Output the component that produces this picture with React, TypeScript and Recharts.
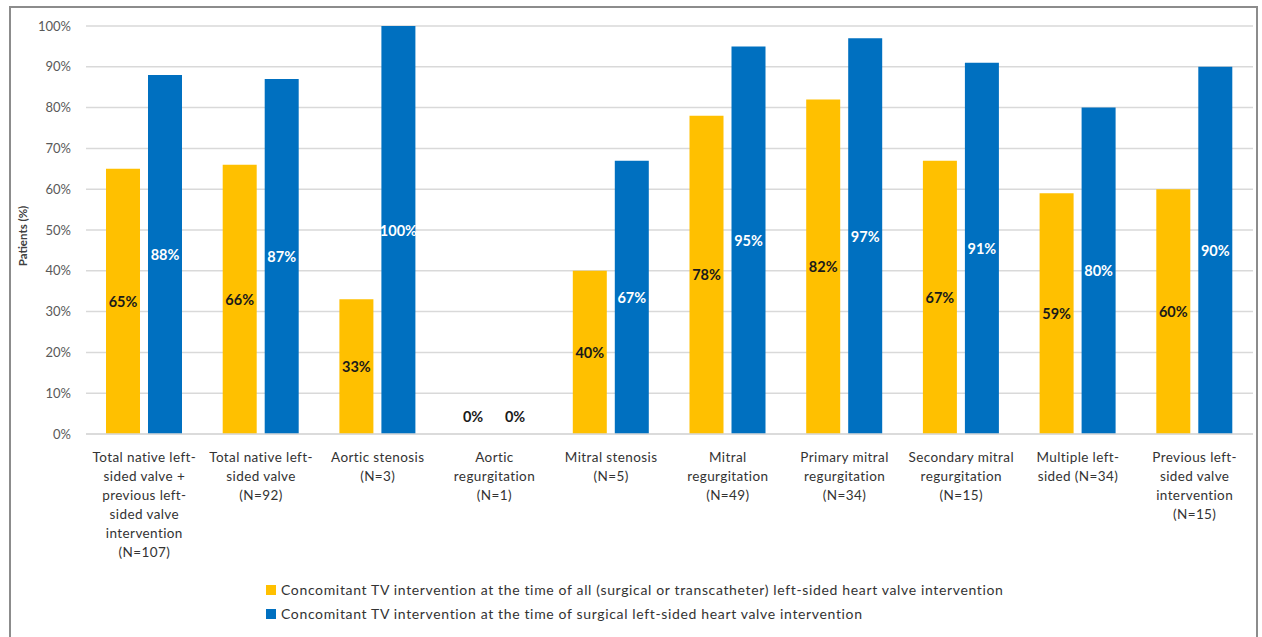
import { BarChart, Bar, XAxis, YAxis, CartesianGrid } from 'recharts'

const categories = [
  ['Total native left-', 'sided valve +', 'previous left-', 'sided valve', 'intervention', '(N=107)'],
  ['Total native left-', 'sided valve', '(N=92)'],
  ['Aortic stenosis', '(N=3)'],
  ['Aortic', 'regurgitation', '(N=1)'],
  ['Mitral stenosis', '(N=5)'],
  ['Mitral', 'regurgitation', '(N=49)'],
  ['Primary mitral', 'regurgitation', '(N=34)'],
  ['Secondary mitral', 'regurgitation', '(N=15)'],
  ['Multiple left-', 'sided (N=34)'],
  ['Previous left-', 'sided valve', 'intervention', '(N=15)'],
]
const allValues = [65, 66, 33, 0, 40, 78, 82, 67, 59, 60]
const surgicalValues = [88, 87, 100, 0, 67, 95, 97, 91, 80, 90]
const yTicks = [0, 10, 20, 30, 40, 50, 60, 70, 80, 90, 100]
const legendAll =
  'Concomitant TV intervention at the time of all (surgical or transcatheter) left-sided heart valve intervention'
const legendSurgical = 'Concomitant TV intervention at the time of surgical left-sided heart valve intervention'

const ORANGE = '#ffc000'
const BLUE = '#0070c0'
const FONT = 'Lato, "Open Sans", sans-serif'

const data = categories.map((lines, i) => ({
  key: String(i),
  lines,
  all: allValues[i],
  surgical: surgicalValues[i],
}))

function CategoryTick(props: any) {
  const { x, y, payload } = props
  const lines = categories[Number(payload.value)]
  return (
    <text
      x={x}
      y={y + 20}
      textAnchor="middle"
      fontSize={13.5}
      fill="#333"
      fontFamily={FONT}
      style={{ letterSpacing: 0.4 }}
    >
      {lines.map((l, i) => (
        <tspan key={i} x={x} dy={i === 0 ? 0 : 19}>
          {l}
        </tspan>
      ))}
    </text>
  )
}

function makeLabel(color: string) {
  return (props: any) => {
    const { x, y, width, height, value } = props
    const v = Number(value)
    const zero = v === 0
    const cx = x + width / 2
    const cy = zero ? y - 17 : y + height / 2
    return (
      <text
        x={cx}
        y={cy}
        textAnchor="middle"
        dominantBaseline="central"
        fontSize={14.5}
        fontWeight="bold"
        fill={zero ? '#1a1a1a' : color}
        fontFamily={FONT}
      >
        {v}%
      </text>
    )
  }
}

export default function App() {
  return (
    <div
      style={{
        position: 'fixed',
        left: 0,
        top: 0,
        width: 1262,
        height: 637,
        background: '#fff',
        overflow: 'hidden',
        fontFamily: FONT,
      }}
    >
      <div style={{ position: 'absolute', left: 0, top: 0 }}>
        <BarChart
          width={1262}
          height={637}
          data={data}
          margin={{ top: 26, right: 9, left: 0, bottom: 0 }}
          barSize={34}
          barGap={8}
        >
          <CartesianGrid vertical={false} stroke="#d9d9d9" strokeWidth={1.5} />
          <XAxis
            dataKey="key"
            height={203}
            tick={<CategoryTick />}
            tickLine={false}
            axisLine={{ stroke: '#d9d9d9', strokeWidth: 1.5 }}
            interval={0}
          />
          <YAxis
            domain={[0, 100]}
            ticks={yTicks}
            width={86}
            tickFormatter={(v) => `${v}%`}
            tick={{ fontSize: 13, fill: '#595959', fontFamily: FONT }}
            tickLine={false}
            axisLine={false}
            tickMargin={9}
            label={{
              value: 'Patients (%)',
              angle: -90,
              position: 'insideLeft',
              dx: 18,
              dy: 6,
              style: { fontSize: 11.5, fontWeight: 'bold', fill: '#404040', fontFamily: FONT, textAnchor: 'middle' },
            }}
          />
          <Bar dataKey="all" fill={ORANGE} isAnimationActive={false} minPointSize={0.01} label={makeLabel('#1a1a1a')} />
          <Bar
            dataKey="surgical"
            fill={BLUE}
            isAnimationActive={false}
            minPointSize={0.01}
            label={makeLabel('#ffffff')}
          />
        </BarChart>
      </div>
      <div
        style={{
          position: 'absolute',
          left: 9,
          top: 6,
          width: 1249,
          height: 660,
          border: '2px solid #8c8c8c',
          pointerEvents: 'none',
          boxSizing: 'border-box',
        }}
      />
      {[
        { text: legendAll, color: ORANGE, top: 581 },
        { text: legendSurgical, color: BLUE, top: 605 },
      ].map((item) => (
        <div
          key={item.text}
          style={{
            position: 'absolute',
            left: 266,
            top: item.top,
            display: 'flex',
            alignItems: 'center',
            fontSize: 14,
            letterSpacing: 0.65,
            color: '#333',
            whiteSpace: 'nowrap',
          }}
        >
          <span style={{ width: 10, height: 10, background: item.color, marginRight: 5, display: 'inline-block' }} />
          {item.text}
        </div>
      ))}
    </div>
  )
}
